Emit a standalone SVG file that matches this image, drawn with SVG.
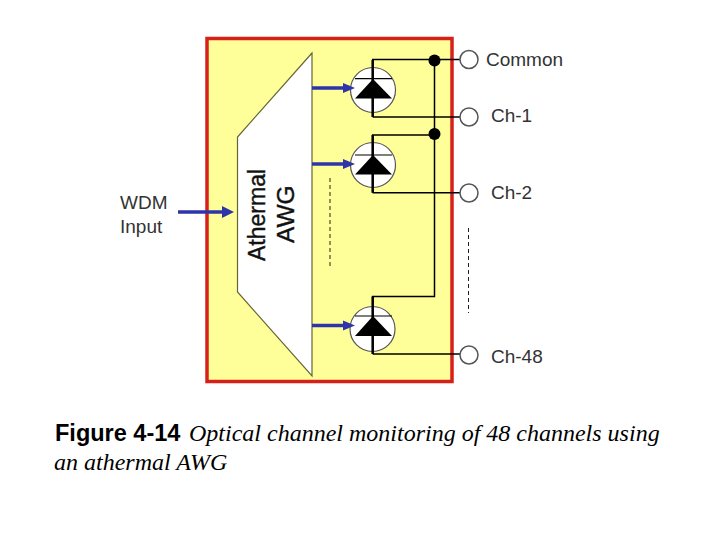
<svg xmlns="http://www.w3.org/2000/svg" width="720" height="540" viewBox="0 0 720 540">
<style>
.w{fill:none;stroke:#000;stroke-width:1.5}
.b{fill:none;stroke:#2f35a8;stroke-width:3.5}
.h{fill:#2f35a8}
.pd{fill:#fff;stroke:#555;stroke-width:1.2}
.port{fill:#fff;stroke:#555;stroke-width:1.5}
.t{font-family:"Liberation Sans",Arial,sans-serif;font-size:19px;fill:#333}
.a{font-family:"Liberation Sans",Arial,sans-serif;fill:#111;stroke:#111;stroke-width:.4}
.d{fill:none;stroke:#222;stroke-width:1;stroke-dasharray:4 3}
.cap{font-family:"Liberation Serif","Times New Roman",serif;font-size:24px;font-style:italic;fill:#000}
</style>
<rect width="720" height="540" fill="#fff"/>
<rect id="module" x="207" y="38.500" width="245" height="343" fill="#ffff99" stroke="#d8201a" stroke-width="3.500"/>
<g id="awg">
<polygon points="312,53 237.500,137 237.500,292 312,376" fill="#fff" stroke="#666633" stroke-width="1.200"/>
<text class="a" transform="translate(265,261) rotate(-90)" font-size="23">Athermal</text>
<text class="a" transform="translate(294,243) rotate(-90)" font-size="24.500">AWG</text>
</g>
<g id="pd1"><circle class="pd" cx="373" cy="90" r="22.500"/></g>
<g id="pd2"><circle class="pd" cx="373" cy="165" r="22.500"/></g>
<g id="pd3"><circle class="pd" cx="372.500" cy="329" r="22.500"/></g>
<g id="connectors">
<path class="w" d="M372.700 117V59.500H460M372.700 117H460M372.700 192.700V135H434.500M372.700 192.700H460M372.700 354V296.500H434.500V60M372.700 354H460"/>
<path d="M372.700 60V117M372.700 135V192.700M372.700 296.500V354" fill="none" stroke="#000" stroke-width="2.500"/>
<path d="M355 78.700H392M355 155H392M355 316H392" stroke="#000" stroke-width="1.200"/>
<circle cx="434.500" cy="60.500" r="6"/>
<circle cx="434.500" cy="134" r="6"/>
<polygon points="373,79 392,98.500 355,98.500"/>
<polygon points="373,155 392,174.500 355,174.500"/>
<polygon points="373,316 392,336 355,336"/>
<path class="b" d="M312 88H345M312 164H345M312 325.500H345M178 212H225"/>
<polygon class="h" points="343,83 355,88 343,93"/>
<polygon class="h" points="343,159 355,164 343,169"/>
<polygon class="h" points="343,320.500 355,325.500 343,330.500"/>
<polygon class="h" points="222,206 234,212 222,218"/>
<path class="d" d="M330 178V266M468.500 228V313"/>
</g>
<g id="port-common"><circle class="port" cx="469" cy="59.500" r="9"/><text class="t" x="486" y="66">Common</text></g>
<g id="port-ch1"><circle class="port" cx="469" cy="117" r="9"/><text class="t" x="491" y="122">Ch-1</text></g>
<g id="port-ch2"><circle class="port" cx="469" cy="193" r="9"/><text class="t" x="491" y="199">Ch-2</text></g>
<g id="port-ch48"><circle class="port" cx="469" cy="355" r="9"/><text class="t" x="491" y="363">Ch-48</text></g>
<g id="wdm-input"><text class="t" x="120" y="209" font-size="19.500">WDM</text><text class="t" x="120" y="233">Input</text></g>
<text x="55" y="441" font-family="Liberation Sans,Arial,sans-serif" font-size="23.500" font-weight="bold" fill="#000">Figure 4-14</text>
<text class="cap" x="189" y="441">Optical channel monitoring of 48 channels using</text>
<text class="cap" x="54" y="470">an athermal AWG</text>
</svg>
